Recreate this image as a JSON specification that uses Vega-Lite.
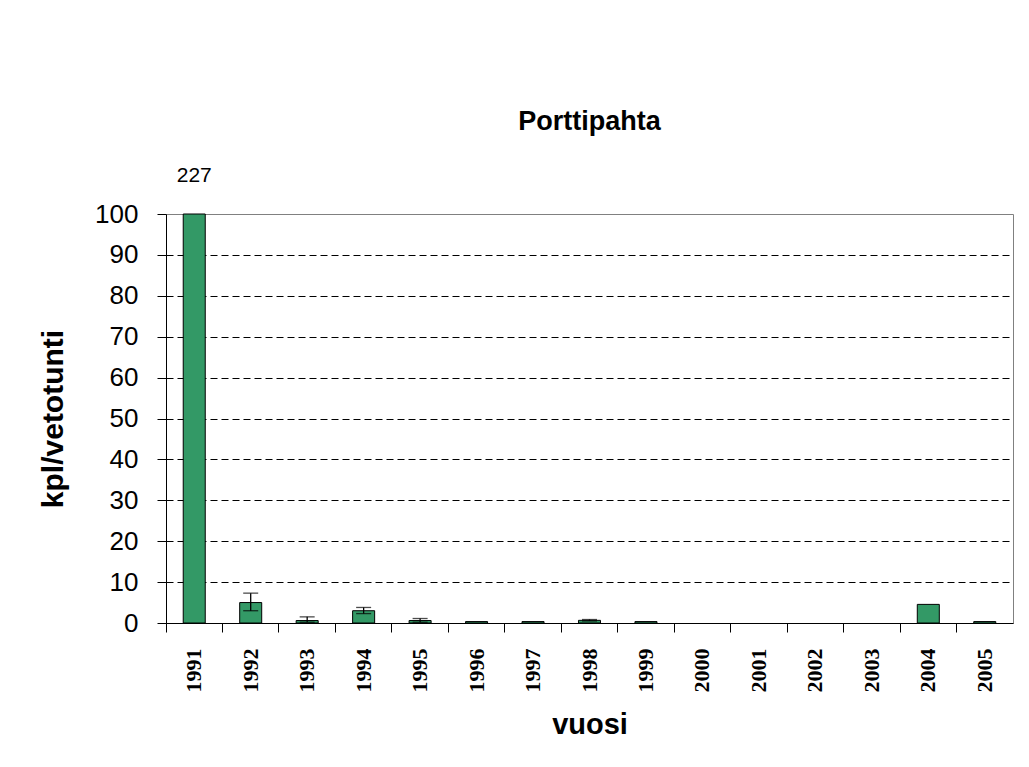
{
  "$schema": "https://vega.github.io/schema/vega-lite/v6.json",
  "width": 847,
  "height": 409,
  "autosize": "none",
  "padding": {"left": 166, "top": 214, "right": 16, "bottom": 144},
  "background": "white",
  "title": {"text": "Porttipahta", "font": "Liberation Sans", "fontSize": 27, "fontWeight": "bold", "color": "black", "anchor": "middle", "baseline": "alphabetic", "offset": 8},
  "config": {
    "view": {"stroke": "#808080", "strokeWidth": 1},
    "axis": {"labelColor": "black", "titleColor": "black", "domainColor": "black", "tickColor": "black", "domainWidth": 1, "tickWidth": 1}
  },
  "data": {"values": [
    {"year": 1991, "value": 227, "lo": null, "hi": null},
    {"year": 1992, "value": 5.0, "lo": 3.0, "hi": 7.3},
    {"year": 1993, "value": 0.6, "lo": 0.2, "hi": 1.5},
    {"year": 1994, "value": 3.0, "lo": 2.3, "hi": 3.8},
    {"year": 1995, "value": 0.6, "lo": 0.2, "hi": 1.1},
    {"year": 1996, "value": 0.35, "lo": null, "hi": null},
    {"year": 1997, "value": 0.35, "lo": null, "hi": null},
    {"year": 1998, "value": 0.65, "lo": 0.5, "hi": 0.85},
    {"year": 1999, "value": 0.35, "lo": null, "hi": null},
    {"year": 2000, "value": null, "lo": null, "hi": null},
    {"year": 2001, "value": null, "lo": null, "hi": null},
    {"year": 2002, "value": null, "lo": null, "hi": null},
    {"year": 2003, "value": null, "lo": null, "hi": null},
    {"year": 2004, "value": 4.55, "lo": null, "hi": null},
    {"year": 2005, "value": 0.35, "lo": null, "hi": null}
  ]},
  "encoding": {
    "x": {
      "field": "year", "type": "ordinal",
      "scale": {"domain": [1991, 1992, 1993, 1994, 1995, 1996, 1997, 1998, 1999, 2000, 2001, 2002, 2003, 2004, 2005], "paddingInner": 0, "paddingOuter": 0},
      "axis": {
        "title": "vuosi", "titleFont": "Liberation Sans", "titleFontSize": 29, "titleFontWeight": "bold", "titlePadding": 18,
        "grid": false, "bandPosition": 0, "labelAngle": 270,
        "labelFont": "Liberation Serif", "labelFontWeight": "bold", "labelFontSize": 22, "labelPadding": 16, "tickSize": 9
      }
    }
  },
  "layer": [
    {
      "mark": {"type": "bar", "width": {"band": 0.39}, "fill": "#339966", "stroke": "black", "strokeWidth": 1},
      "encoding": {
        "y": {
          "field": "value", "type": "quantitative", "title": "kpl/vetotunti",
          "scale": {"domain": [0, 100], "clamp": true, "nice": false},
          "axis": {
            "values": [0, 10, 20, 30, 40, 50, 60, 70, 80, 90, 100],
            "labelFont": "Liberation Sans", "labelFontSize": 26, "labelPadding": 19, "tickSize": 9,
            "titleFont": "Liberation Sans", "titleFontSize": 30, "titleFontWeight": "bold", "titlePadding": 26,
            "grid": true, "gridColor": "black", "gridDash": [7, 4], "gridWidth": 1,
            "gridOpacity": {"condition": {"test": "datum.value === 100 || datum.value === 0", "value": 0}, "value": 1}
          }
        }
      }
    },
    {
      "mark": {"type": "rule", "color": "black", "strokeWidth": 1.3},
      "encoding": {
        "y": {"field": "lo", "type": "quantitative", "title": "kpl/vetotunti"},
        "y2": {"field": "hi"}
      }
    },
    {
      "mark": {"type": "tick", "color": "black", "thickness": 1.3, "size": 15},
      "encoding": {"y": {"field": "hi", "type": "quantitative", "title": "kpl/vetotunti"}}
    },
    {
      "mark": {"type": "tick", "color": "black", "thickness": 1.3, "size": 15},
      "encoding": {"y": {"field": "lo", "type": "quantitative", "title": "kpl/vetotunti"}}
    },
    {
      "transform": [{"filter": "datum.value > 100"}],
      "mark": {"type": "text", "dy": -32, "baseline": "alphabetic", "align": "center", "font": "Liberation Sans", "fontSize": 21, "color": "black"},
      "encoding": {
        "y": {"field": "value", "type": "quantitative", "title": "kpl/vetotunti"},
        "text": {"field": "value", "type": "quantitative"}
      }
    }
  ]
}
